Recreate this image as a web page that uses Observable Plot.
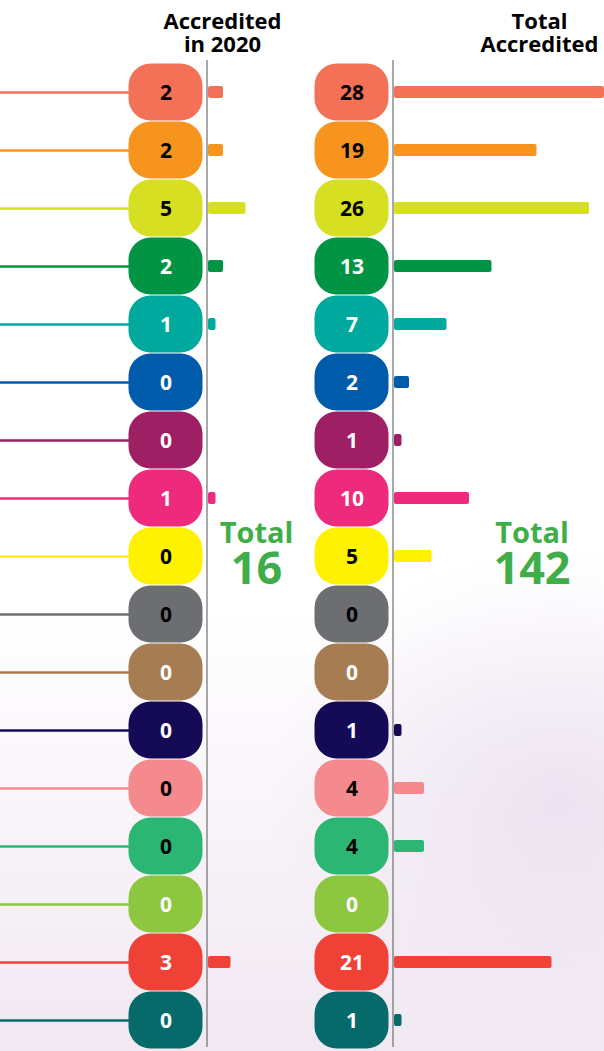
<!DOCTYPE html>
<html>
<head>
<meta charset="utf-8">
<script src="https://cdn.jsdelivr.net/npm/d3@7"></script>
<script src="https://cdn.jsdelivr.net/npm/@observablehq/plot@0.6"></script>
<style>
  html, body { margin: 0; padding: 0; }
  body {
    width: 604px; height: 1051px; overflow: hidden;
    background:
      radial-gradient(ellipse 420px 360px at 560px 800px, rgba(226,212,234,0.55), rgba(255,255,255,0) 70%),
      linear-gradient(180deg, #ffffff 0%, #ffffff 58%, #f8f3f8 80%, #f1e8f2 100%);
  }
  #chart svg { display: block; }
</style>
</head>
<body>
<div id="chart"></div>
<script>
// ---- data ----
const rows = ["r01","r02","r03","r04","r05","r06","r07","r08","r09","r10","r11","r12","r13","r14","r15","r16","r17"];
const accredited2020 = [2, 2, 5, 2, 1, 0, 0, 1, 0, 0, 0, 0, 0, 0, 0, 3, 0];
const totalAccredited = [28, 19, 26, 13, 7, 2, 1, 10, 5, 0, 0, 1, 4, 4, 0, 21, 1];
const pillColors = ["#F37257","#F7941E","#D7DF23","#009444","#00A99D","#005BAA","#9E1F63","#ED2A7B","#FFF200","#6D6E71","#A67C52","#140A55","#F4898E","#2BB673","#8DC63F","#EF4136","#066A6A"];
const labelColors = ["#000000","#000000","#000000","#ffffff","#ffffff","#ffffff","#ffffff","#ffffff","#000000","#000000","#ffffff","#ffffff","#000000","#000000","#ffffff","#ffffff","#ffffff"];
const titleLine1 = ["Accredited", "Total"];
const titleLine2 = ["in 2020", "Accredited"];
const columnValues = [accredited2020, totalAccredited];

// ---- layout ----
const W = 604, H = 1051;
const K = 7.5;               // px per unit
const B0 = 206.5;            // px position of first column baseline
const colOffsetPx = [0, 186];
const titleOffsetPx = [15.5, 146.5];
const totalOffsetPx = [49.5, 139];
const u = p => p / K;
const green = "#3FAE49";

const long = [];
columnValues.forEach((vals, j) => rows.forEach((r, i) => long.push({
  row: r, col: j, value: vals[i], fillc: pillColors[i], ink: labelColors[i], base: u(colOffsetPx[j])
})));
const leaders = rows.map((r, i) => ({row: r, fillc: pillColors[i]}));
const totals = columnValues.map((vals, j) => ({col: j, base: u(colOffsetPx[j]), total: d3.sum(vals)}));
const titles = [0, 1].map(j => ({col: j, l1: titleLine1[j], l2: titleLine2[j]}));

const chart = Plot.plot({
  width: W, height: H,
  marginTop: 63, marginBottom: 2, marginLeft: 0, marginRight: 0,
  x: {domain: [-B0 / K, (W - B0) / K], range: [0, W], axis: null},
  y: {type: "band", domain: rows, range: [63, 1049], padding: 0, axis: null},
  color: {type: "identity"},
  style: {background: "transparent", fontFamily: "'Open Sans', sans-serif", overflow: "hidden"},
  marks: [
    Plot.ruleY(leaders, {y: "row", x1: -B0 / K, x2: u(-76), stroke: "fillc", strokeWidth: 2.5}),
    Plot.ruleX(colOffsetPx.map(u), {x: d => d, stroke: "#6d6e71", strokeWidth: 1.2, insetTop: -3, insetBottom: 2}),
    Plot.barX(long, {y: "row", x1: d => d.base + u(-78), x2: d => d.base + u(-4), fill: "fillc", rx: 22, insetTop: 0.6, insetBottom: 0.6}),
    Plot.text(long, {y: "row", x: d => d.base + u(-41), text: d => String(d.value), fill: "ink", fontSize: 21, fontWeight: 700, dy: 1}),
    Plot.barX(long.filter(d => d.value > 0), {y: "row", x1: d => d.base + u(1.5), x2: d => d.base + u(1.5) + d.value, fill: "fillc", insetTop: 23, insetBottom: 23, rx: 2}),
    Plot.text(titles, {x: d => u(colOffsetPx[d.col] + titleOffsetPx[d.col]), frameAnchor: "top", lineAnchor: "middle", dy: -42, text: "l1", fontSize: 22, fontWeight: 700, fill: "#000"}),
    Plot.text(titles, {x: d => u(colOffsetPx[d.col] + titleOffsetPx[d.col]), frameAnchor: "top", lineAnchor: "middle", dy: -19, text: "l2", fontSize: 22, fontWeight: 700, fill: "#000"}),
    Plot.text(totals, {x: d => d.base + u(totalOffsetPx[d.col]), y: () => rows[8], lineAnchor: "middle", text: () => "Total", fill: green, fontSize: 29, fontWeight: 700, dy: -23}),
    Plot.text(totals, {x: d => d.base + u(totalOffsetPx[d.col]), y: () => rows[8], lineAnchor: "middle", text: d => String(d.total), fill: green, fontSize: 45, fontWeight: 700, dy: 13})
  ]
});
document.getElementById("chart").appendChild(chart);
</script>
</body>
</html>
